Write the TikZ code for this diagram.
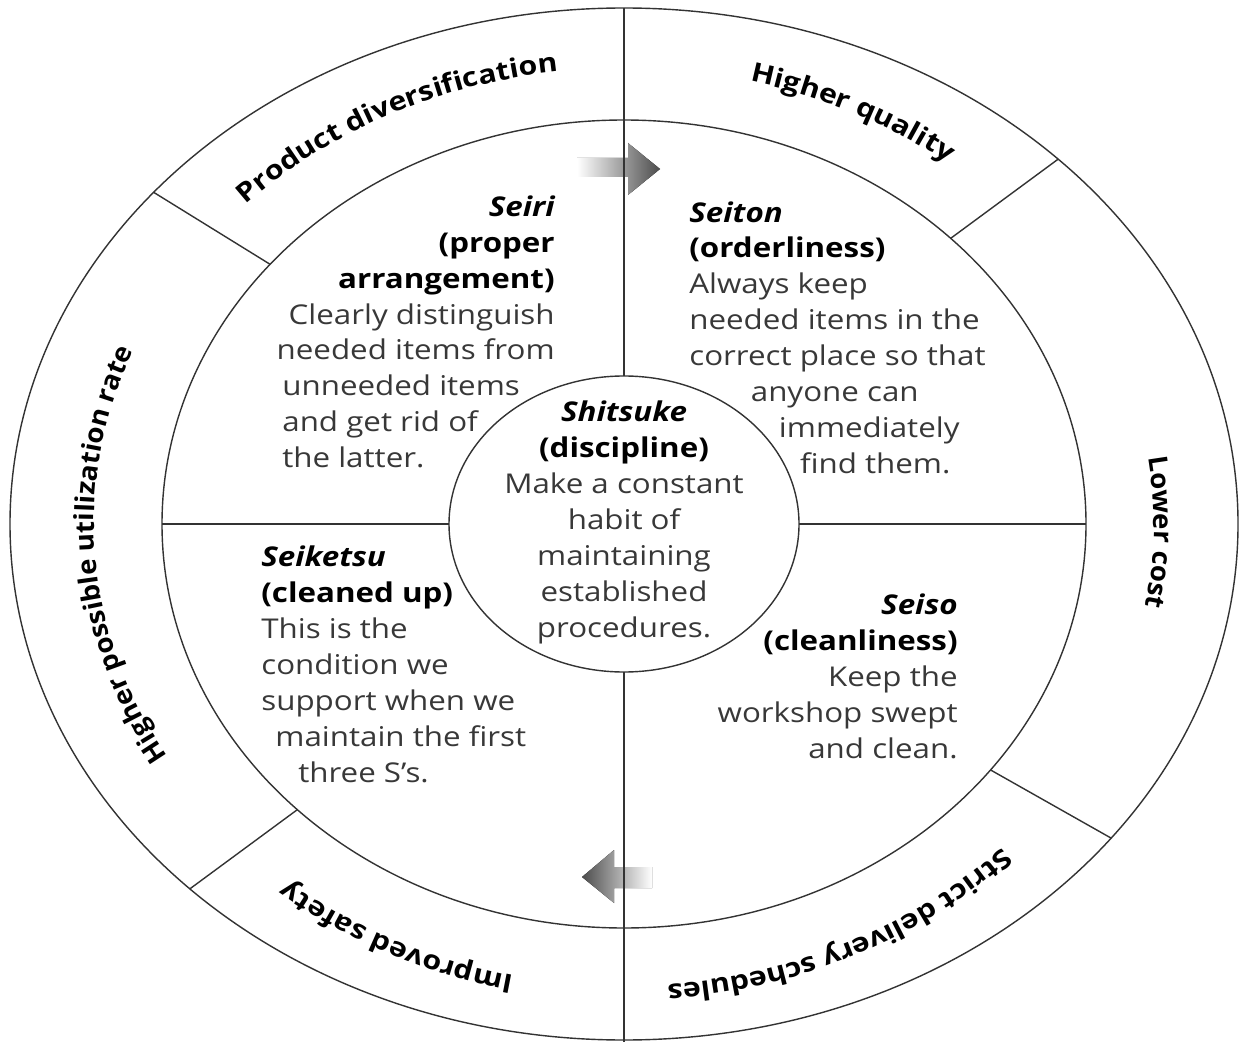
\documentclass[tikz,border=0pt]{standalone}
\usepackage{fontspec}
\setmainfont{Open Sans}[FakeStretch=1.15]
\newfontfamily\sidefont{Open Sans}[FakeStretch=1.05]
\usetikzlibrary{calc,decorations.text}

\newcommand\sname[1]{\textcolor{black}{\bfseries\itshape #1}}
\newcommand\sgloss[1]{\textcolor{black}{\bfseries #1}}

\begin{document}
\begin{tikzpicture}[x=0.02cm,y=0.02cm,
   rim/.style={draw=black!80, line width=0.8pt},
   body/.style={inner sep=0pt, text=black!78, font=\fontsize{15.5}{20.4}\selectfont},
   ringlabel/.style={decorate, decoration={text along path, text align=center,
      text={|\fontsize{15}{17}\selectfont\bfseries|#1}}},
   sidelabel/.style={decorate, decoration={text along path, text align=center,
      text={|\sidefont\fontsize{15}{17}\selectfont\bfseries|#1}}}]
   \useasboundingbox (0,0) rectangle (1239,1042);
   \coordinate (C) at (624,518);

   % shaded arrows
   \fill[left color=white, right color=black!70]
      (577,865) -- (628,865) -- (628,847) -- (660,873) -- (628,899) -- (628,884) -- (577,884) -- cycle;
   \fill[left color=black!70, right color=white]
      (582,165) -- (614,192) -- (614,175) -- (652,175) -- (652,154) -- (614,154) -- (614,139) -- cycle;

   % rings
   \draw[rim] (C) ellipse [x radius=614, y radius=516];
   \draw[rim] (C) ellipse [x radius=462, y radius=404];
   \draw[rim] (C) ellipse [x radius=175, y radius=148];
   \draw[rim] ($(C)+(0,516)$) -- ($(C)+(0,148)$);
   \draw[rim] ($(C)+(0,-148)$) -- ($(C)+(0,-518)$);
   \draw[rim] ($(C)+(-462,0)$) -- ($(C)+(-175,0)$);
   \draw[rim] ($(C)+(175,0)$) -- ($(C)+(462,0)$);
   \foreach \a in {140,45,-37.5,-135}
      \draw[rim] ($(C)+(\a:462 and 404)$) -- ($(C)+(\a:614 and 516)$);

   % outer ring labels
   \path[ringlabel={Product diversification}] ($(C)+(140:530 and 456)$)
      arc[start angle=140, end angle=93, x radius=530, y radius=456];
   \path[ringlabel={Higher quality}] ($(C)+(86:530 and 456)$)
      arc[start angle=86, end angle=42, x radius=530, y radius=456];
   \path[sidelabel={Lower cost}] ($(C)+(30:530 and 456)$)
      arc[start angle=30, end angle=-32, x radius=530, y radius=456];
   \path[ringlabel={Strict delivery schedules}] ($(C)+(-35:530 and 462)$)
      arc[start angle=-35, end angle=-94, x radius=530, y radius=462];
   \path[ringlabel={Improved safety}] ($(C)+(-92:530 and 462)$)
      arc[start angle=-92, end angle=-140, x radius=530, y radius=462];
   \path[sidelabel={Higher possible utilization rate}] ($(C)+(226:530 and 456)$)
      arc[start angle=226, end angle=142, x radius=530, y radius=456];

   % the five S
   \node[body, align=right, anchor=base east] (seiri) at (555,682)
      {\sname{Seiri}\\ \sgloss{(proper}\\ \sgloss{arrangement)}\\ Clearly distinguish\\ needed items from};
   \node[body, align=left, anchor=base west] (seiritail) at (282,575)
      {unneeded items\\ and get rid of\\ the latter.};
   \node[body, align=left, anchor=base west] (seiton) at (689,569)
      {\sname{Seiton}\\ \sgloss{(orderliness)}\\ Always keep\\ needed items in the\\ correct place so that\\
       \hspace*{35pt}anyone can\\ \hspace*{51pt}immediately\\ \hspace*{63pt}find them.};
   \node[body, align=center, anchor=base] (shitsuke) at (624,405)
      {\sname{Shitsuke}\\ \sgloss{(discipline)}\\ Make a constant\\ habit of\\ maintaining\\ established\\ procedures.};
   \node[body, align=left, anchor=base west] (seiketsu) at (261,260)
      {\sname{Seiketsu}\\ \sgloss{(cleaned up)}\\ This is the\\ condition we\\ support when we\\
       \hspace*{8pt}maintain the first\\ \hspace*{21pt}three S’s.};
   \node[body, align=right, anchor=base east] (seiso) at (958,284)
      {\sname{Seiso}\\ \sgloss{(cleanliness)}\\ Keep the\\ workshop swept\\ and clean.};
\end{tikzpicture}
\end{document}
